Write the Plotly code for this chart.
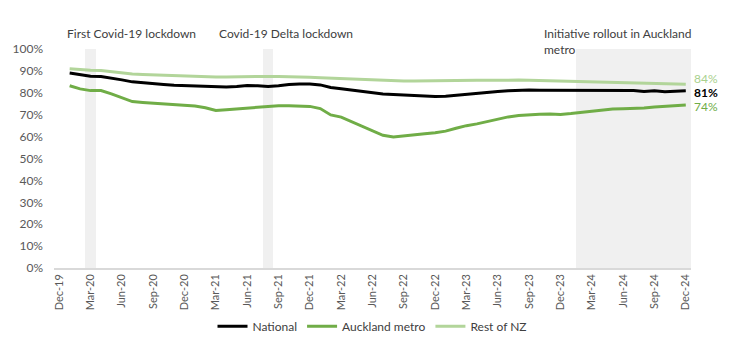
import plotly.graph_objects as go
import pandas as pd

# Month categories Dec-19 .. Dec-24
months = [d.strftime("%b-%y") for d in pd.date_range("2019-12-01", "2024-12-01", freq="MS")]
tick_labels = months[::3]

# Series values (share, %), monthly Jan-20 .. Dec-24
national = [89.0, 88.2, 87.6, 87.4, 86.8, 85.9, 85.0, 84.5, 84.1, 83.8, 83.5, 83.3,
            83.1, 82.9, 82.7, 82.7, 82.9, 83.3, 83.2, 82.9, 83.2, 83.8, 84.0, 84.0,
            83.6, 82.4, 81.8, 81.2, 80.5, 79.8, 79.4, 79.2, 78.9, 78.6, 78.4, 78.3,
            78.4, 78.9, 79.4, 79.8, 80.2, 80.6, 80.9, 81.2, 81.3, 81.2, 81.2, 81.2,
            81.2, 81.2, 81.2, 81.2, 81.2, 81.1, 81.0, 80.6, 80.9, 80.5, 80.6, 80.9]
auckland = [83.2, 81.8, 81.0, 81.0, 79.5, 77.6, 76.0, 75.6, 75.3, 75.1, 74.8, 74.6,
            74.0, 73.2, 71.9, 72.3, 72.7, 73.2, 73.6, 74.0, 74.1, 74.1, 74.1, 73.8,
            72.8, 69.9, 68.9, 66.8, 65.0, 62.8, 60.6, 59.8, 60.2, 60.8, 61.3, 61.8,
            62.5, 63.8, 65.0, 65.8, 66.9, 68.0, 69.0, 69.6, 70.0, 70.2, 70.3, 70.1,
            70.5, 71.0, 71.6, 72.2, 72.6, 72.7, 72.8, 73.1, 73.5, 73.9, 74.2, 74.4]
rest_nz = [91.0, 90.6, 90.3, 90.2, 89.6, 89.0, 88.6, 88.4, 88.2, 88.0, 87.9, 87.8,
           87.6, 87.4, 87.2, 87.2, 87.3, 87.4, 87.6, 87.5, 87.4, 87.4, 87.3, 87.1,
           86.9, 86.7, 86.4, 86.1, 85.9, 85.7, 85.5, 85.4, 85.4, 85.4, 85.5, 85.5,
           85.5, 85.6, 85.6, 85.7, 85.7, 85.8, 85.8, 85.8, 85.7, 85.6, 85.5, 85.4,
           85.3, 85.2, 85.0, 84.8, 84.7, 84.6, 84.5, 84.4, 84.3, 84.2, 84.0, 83.9]
series_months = months[1:]

# Shaded periods
shaded_months = ["Mar-20", "Aug-21"] + months[50:61]
shade_level = [100] * len(shaded_months)

period_labels = ["First Covid-19 lockdown", "Covid-19 Delta lockdown",
                 "Initiative rollout in Auckland<br>metro"]
period_label_months = ["Dec-19", "Mar-21", "Oct-23"]
period_label_xshift = [6, 1, 2]
period_label_yshift = [16, 16, 8]

C_NAT = "#000000"
C_AKL = "#70AD47"
C_REST = "#B2D59A"
C_REST_TXT = "#A9D18E"
FONT = "Lato"

fig = go.Figure()
fig.add_trace(go.Bar(x=shaded_months, y=shade_level, marker=dict(color="#F0F0F0", line_width=0),
                     showlegend=False, hoverinfo="skip"))
fig.add_trace(go.Scatter(x=series_months, y=national, mode="lines", name="National",
                         line=dict(color=C_NAT, width=3)))
fig.add_trace(go.Scatter(x=series_months, y=auckland, mode="lines", name="Auckland metro",
                         line=dict(color=C_AKL, width=3)))
fig.add_trace(go.Scatter(x=series_months, y=rest_nz, mode="lines", name="Rest of NZ",
                         line=dict(color=C_REST, width=3)))

# End labels
end_items = [(rest_nz[-1], C_REST_TXT, False, 6), (national[-1], C_NAT, True, -2),
             (auckland[-1], C_AKL, False, -1)]
for val, col, bold, ys in end_items:
    txt = f"{round(val):.0f}%"
    if bold:
        txt = f"<b>{txt}</b>"
    fig.add_annotation(x=series_months[-1], y=val, text=txt, showarrow=False, xanchor="left",
                       xshift=6, yshift=ys, font=dict(family=FONT, size=12, color=col))

# Period labels
for lab, m, xs, ys in zip(period_labels, period_label_months, period_label_xshift, period_label_yshift):
    fig.add_annotation(x=m, y=1.0, yref="paper", text=lab, showarrow=False, xanchor="left",
                       yanchor="middle", align="left", xshift=xs, yshift=ys,
                       font=dict(family=FONT, size=12, color="#404040"))

fig.update_layout(
    width=735, height=358,
    margin=dict(l=54, r=44, t=49, b=90),
    plot_bgcolor="white", paper_bgcolor="white",
    bargap=0,
    font=dict(family=FONT, size=12, color="#595959"),
    legend=dict(orientation="h", x=0.5, xanchor="center", y=-0.2, yanchor="top",
                font=dict(family=FONT, size=12, color="#404040"), itemwidth=30),
    showlegend=True,
)
fig.update_xaxes(type="category", categoryorder="array", categoryarray=months,
                 range=[-0.5, 60.5], tickmode="array", tickvals=tick_labels, ticktext=tick_labels,
                 tickangle=-90, showgrid=False, showline=True, linecolor="#D9D9D9", linewidth=1.5,
                 ticks="", zeroline=False, tickfont=dict(family=FONT, size=11, color="#595959"))
fig.update_yaxes(range=[0, 100], tickvals=list(range(0, 101, 10)),
                 ticktext=[f"{v}%" for v in range(0, 101, 10)], showgrid=False, zeroline=False,
                 showline=False, ticklabelstandoff=10,
                 tickfont=dict(family=FONT, size=12, color="#595959"))

fig.write_html("out.html", config={"displayModeBar": False},
               post_script="document.body.style.margin='0';")
